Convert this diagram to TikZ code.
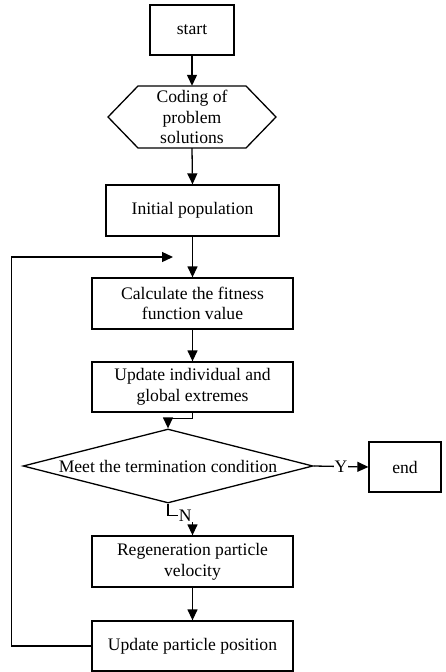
\documentclass[tikz,border=0pt]{standalone}
\usepackage{fontspec}
\setmainfont{Liberation Serif}
\usetikzlibrary{arrows.meta,shapes.geometric}
\begin{document}
\begin{tikzpicture}[x=1pt,y=-1pt,
  every node/.style={font=\fontsize{17.6}{20.7}\selectfont},
  box/.style={draw,line width=1.3pt,inner sep=0pt,align=center},
  arr/.style={line width=1.3pt,-{Triangle[length=11pt,width=10pt]}},
  ln/.style={line width=1.3pt},
  lbl/.style={fill=white,inner sep=1pt}]
\useasboundingbox (0,0) rectangle (446,672);
\node[box,minimum width=84pt,minimum height=50pt] (start) at (192,30) {start};
\node[inner sep=0pt,minimum width=168pt,minimum height=62pt,align=center] (hex) at (192,117) {Coding of\\problem\\solutions};
\draw[ln] (108,117) -- (138,86) -- (246,86) -- (276,117) -- (246,148) -- (138,148) -- cycle;
\node[box,minimum width=173pt,minimum height=51pt] (init) at (192.5,210.5) {Initial population};
\node[box,minimum width=201pt,minimum height=51pt] (calc) at (192.5,303.5) {Calculate the fitness\\function value};
\node[box,minimum width=201pt,minimum height=50pt] (upd) at (192.5,387) {Update individual and\\global extremes};
\node[draw,line width=1.3pt,diamond,aspect=3.92,inner sep=0pt,minimum width=290pt,minimum height=74pt] (dia) at (168,466) {Meet the termination condition};
\node[box,minimum width=72pt,minimum height=50pt] (end) at (405,467) {end};
\node[box,minimum width=201pt,minimum height=51pt] (regen) at (192.5,561.5) {Regeneration particle\\velocity};
\node[box,minimum width=201pt,minimum height=50pt] (pos) at (192.5,646) {Update particle position};
\coordinate (loopend) at (173,257);
\draw[arr] (start.south) -- (hex.north);
\draw[arr] (hex.south) -- (init.north);
\draw[arr] (init.south) -- (calc.north);
\draw[arr] (calc.south) -- (upd.north);
\draw[arr] (upd.south) -- ++(0,6) -| (dia.north);
\draw[arr] (dia.east) -- node[lbl] {Y} (end.west);
\draw[arr] (dia.south) -- ++(0,12) -| node[lbl,pos=0.35] {N} (regen.north);
\draw[arr] (regen.south) -- (pos.north);
\draw[arr] (pos.west) -- ++(-80,0) |- (loopend);
\end{tikzpicture}
\end{document}
